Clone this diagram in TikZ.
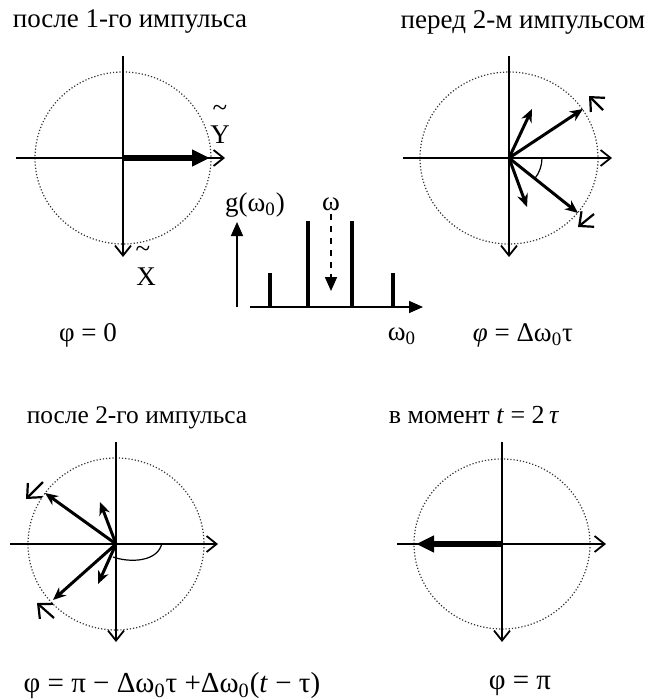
\documentclass[tikz,border=0pt]{standalone}
\usepackage{fontspec}
\setmainfont{Liberation Serif}
\usetikzlibrary{arrows.meta, positioning, calc}
\tikzstyle{axis} = [line width=0.9pt,
-{Straight Barb[length=5pt,width=8pt]}]
\tikzstyle{ring} = [densely dotted, line width=0.6pt, black!80]
\tikzstyle{spin} = [line width=1.5pt,
-{Stealth[length=6.5pt,width=5.5pt]}]
\tikzstyle{total} = [line width=2.6pt,
-{Triangle[length=9pt,width=8pt]}]
\tikzstyle{drift} = [line width=1.1pt,
-{Straight Barb[length=5.5pt,width=10pt]}]
\tikzstyle{bar} = [line width=2pt]
\tikzstyle{label} = [font=\fontsize{13.5}{16}\selectfont, inner sep=0pt]

\begin{document}
\begin{tikzpicture}[x=0.5pt, y=-0.5pt]
                \useasboundingbox (0,0) rectangle (647,700);
                \coordinate (c1) at (123,158);
                \coordinate (c2) at (509,158);
                \coordinate (c3) at (116,544);
                \coordinate (c4) at (502,544);

                % titles
                \node (t1) [label] at (130,22) {после 1-го импульса};
                \node (t2) [label] at (523,22) {перед 2-м импульсом};
                \node (t3) [label, font=\fontsize{12.7}{15}\selectfont] at (137,418) {после 2-го импульса};
                \node (t4) [label, font=\fontsize{13}{15}\selectfont] at (474,415) {в момент \textit{t} = 2\,\textit{τ}};

                % after the first pulse
                \draw [ring] (c1) ellipse [x radius=88, y radius=86];
                \draw [axis] (123,56) -- (123,257);
                \draw [axis] (16,158) -- (225,158);
                \draw [total] (c1) -- (210,158);
                \node (yt) [label] at (220,111) {\textasciitilde};
                \node (yl) [label] at (220,135) {Y};
                \node (xt) [label] at (143,252) {\textasciitilde};
                \node (xl) [label] at (146,277) {X};
                \node (p1) [label] at (88,335) {φ = 0};

                % line spectrum
                \draw [line width=0.8pt, -{Triangle[length=7pt,width=6pt]}] (237,307) -- (237,222);
                \draw [line width=0.8pt, -{Triangle[length=7pt,width=6pt]}] (250,307) -- (423,307);
                \draw [bar] (270,307) -- (270,273);
                \draw [bar] (308,307) -- (308,221);
                \draw [bar] (352,307) -- (352,221);
                \draw [bar] (393,307) -- (393,273);
                \draw [dashed, line width=0.9pt, -{Triangle[length=7pt,width=6pt]}] (331,214) -- (331,291);
                \node (gl) [label] at (255,205) {g(ω\textsubscript{0})};
                \node (wl) [label] at (331,204) {ω};
                \node (w0) [label] at (402,336) {ω\textsubscript{0}};

                % before the second pulse
                \draw [ring] (c2) ellipse [x radius=89, y radius=86];
                \draw [axis] (509,56) -- (509,257);
                \draw [axis] (403,158) -- (612,158);
                \draw [spin] (c2) -- (583,109);
                \draw [spin] (c2) -- (532,109);
                \draw [spin] (c2) -- (578,213);
                \draw [spin] (c2) -- (527,207);
                \draw [drift] (603,110) -- (589,96);
                \draw [drift] (594,214) -- (578,227);
                \draw [line width=0.6pt] (542,158) arc (0:39:33);
                \node (p2) [label] at (523,335) {\textit{φ} = Δω\textsubscript{0}τ};

                % after the second pulse
                \draw [ring] (c3) ellipse [x radius=88, y radius=86];
                \draw [axis] (116,442) -- (116,642);
                \draw [axis] (10,544) -- (218,544);
                \draw [spin] (c3) -- (45,493);
                \draw [spin] (c3) -- (100,502);
                \draw [spin] (c3) -- (53,600);
                \draw [spin] (c3) -- (98,584);
                \draw [drift] (43,482) -- (26,499);
                \draw [drift] (54,618) -- (37,603);
                \draw [line width=0.6pt] (162,543) .. controls (158,562) and (130,563) .. (113,557);
                \node (p3) [label, font=\fontsize{14.5}{17}\selectfont] at (172,686) {φ = π − Δω\textsubscript{0}τ +Δω\textsubscript{0}(\textit{t} − τ)};

                % echo moment
                \draw [ring] (c4) ellipse [x radius=88, y radius=85];
                \draw [axis] (502,442) -- (502,642);
                \draw [axis] (397,544) -- (606,544);
                \draw [total] (c4) -- (416,544);
                \node (p4) [label, font=\fontsize{14.5}{17}\selectfont] at (520,686) {φ = π};
            \end{tikzpicture}
\end{document}
